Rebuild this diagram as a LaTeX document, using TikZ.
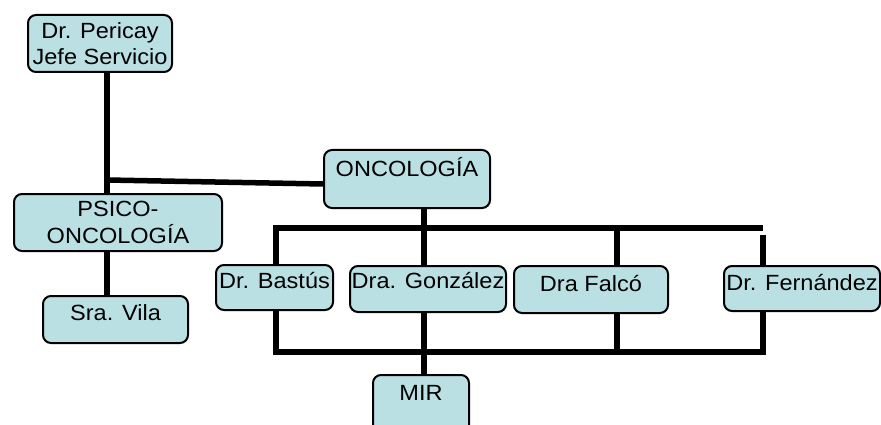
\documentclass[tikz,border=0pt]{standalone}
\usepackage{fontspec}
\setmainfont{Liberation Sans}[FakeStretch=1.07]
\definecolor{boxblue}{RGB}{187,224,227}

\begin{document}
\begin{tikzpicture}[x=1pt, y=-1pt,
  box/.style={draw=black, line width=2pt, fill=boxblue, rounded corners=8pt,
    inner sep=0pt, anchor=north west, font=\fontsize{22}{26.5}\selectfont},
  link/.style={line width=5.5pt}]
  \clip (0,0) rectangle (881,425);
  \node[box, minimum width=144pt, minimum height=57pt, align=center] (pericay) at (27,14) {Dr. Pericay\\Jefe Servicio};
  \node[box, minimum width=208pt, minimum height=57pt, align=center] (psico) at (13,193) {PSICO-\\ONCOLOGÍA};
  \node[box, minimum width=145pt, text height=24.5pt, text depth=22.5pt] (vila) at (42,295) {Sra. Vila};
  \node[box, minimum width=166pt, text height=26.5pt, text depth=31.5pt] (onco) at (323,149) {ONCOLOGÍA};
  \node[box, minimum width=117pt, text height=23.5pt, text depth=21.5pt] (bastus) at (215,264) {Dr. Bastús};
  \node[box, minimum width=156pt, text height=22.5pt, text depth=23.5pt] (gonzalez) at (349,265) {Dra. González};
  \node[box, minimum width=154pt, text height=25.5pt, text depth=21.5pt] (falco) at (513,265) {Dra Falcó};
  \node[box, minimum width=156pt, text height=24.5pt, text depth=20.5pt] (fernandez) at (723,265) {Dr. Fernández};
  \node[box, minimum width=96pt, text height=25.5pt, text depth=40pt] (mir) at (372,374) {MIR};

  \coordinate (jefe) at (107,180);
  \coordinate (topleft) at (276,228);
  \coordinate (topmid) at (424,228);
  \coordinate (topfalco) at (617,228);
  \coordinate (topright) at (763,228);
  \coordinate (fernfree) at (763,235);
  \coordinate (botleft) at (276,352);
  \coordinate (botright) at (763,352);

  \draw[link] (pericay.south -| jefe) -- (psico.north -| jefe);
  \draw[link] (jefe) -- ([yshift=-5pt]onco.west);
  \draw[link] (psico.south -| jefe) -- (vila.north -| jefe);
  \draw[link] (onco.south -| topmid) -- (gonzalez.north -| topmid);
  \draw[link] (bastus.north -| topleft) -- (topleft) -- (topright);
  \draw[link] (topfalco) -- (falco.north -| topfalco);
  \draw[link] (fernfree) -- (fernandez.north -| fernfree);
  \draw[link] (bastus.south -| botleft) -- (botleft) -- (botright) -- (fernandez.south -| botright);
  \draw[link] (falco.south -| topfalco) -- (topfalco |- botleft);
  \draw[link] (gonzalez.south -| topmid) -- (mir.north -| topmid);
\end{tikzpicture}
\end{document}
